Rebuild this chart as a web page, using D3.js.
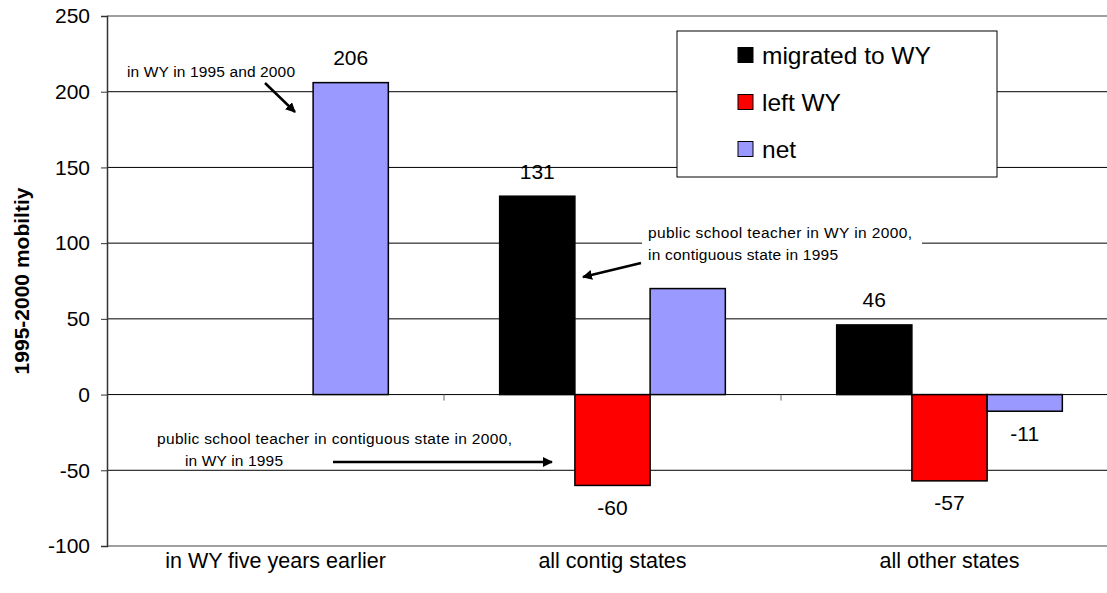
<!DOCTYPE html>
<html>
<head>
<meta charset="utf-8">
<script src="https://cdn.jsdelivr.net/npm/d3@7"></script>
<style>
  html, body { margin: 0; padding: 0; background: #fff; }
  svg { display: block; font-family: "Liberation Sans", Arial, sans-serif; }
</style>
</head>
<body>
<svg id="chart" width="1107" height="593"></svg>
<script>
// Wyoming public school teacher mobility, 1995-2000
const categories = ["in WY five years earlier", "all contig states", "all other states"];
const seriesNames = ["migrated to WY", "left WY", "net"];
const seriesColors = ["#000000", "#FF0000", "#9999FF"];
const migratedValues = [null, 131, 46];
const leftValues = [null, -60, -57];
const netValues = [206, 70, -11];
const migratedLabelled = [false, true, true];
const leftLabelled = [false, true, true];
const netLabelled = [true, false, true];
const yTicks = [-100, -50, 0, 50, 100, 150, 200, 250];
const yTitle = "1995-2000 mobiltiy";

const seriesValues = [migratedValues, leftValues, netValues];
const seriesLabelled = [migratedLabelled, leftLabelled, netLabelled];

const bars = [];
categories.forEach((c, ci) => {
  seriesNames.forEach((s, si) => {
    const v = seriesValues[si][ci];
    if (v !== null) bars.push({ cat: c, series: s, si, value: v, labelled: seriesLabelled[si][ci] });
  });
});

const svg = d3.select("#chart");
const plot = { left: 107, right: 1118, top: 16, bottom: 546 };

const x = d3.scaleBand().domain(categories).range([plot.left, plot.right]).padding(0);
const xs = d3.scaleBand().domain(seriesNames).range([0, x.bandwidth()]).paddingInner(0).paddingOuter(0.74);
const y = d3.scaleLinear().domain([-100, 250]).range([plot.bottom, plot.top]);

// horizontal gridlines
svg.append("g")
  .selectAll("line")
  .data(yTicks.filter(t => t !== 250 && t !== -100 && t !== 0))
  .join("line")
  .attr("x1", plot.left).attr("x2", 1107)
  .attr("y1", d => y(d)).attr("y2", d => y(d))
  .attr("stroke", "#000").attr("stroke-width", 1);

// plot area frame lines (top / bottom)
svg.append("g")
  .selectAll("line")
  .data([250, -100])
  .join("line")
  .attr("x1", plot.left).attr("x2", 1107)
  .attr("y1", d => y(d)).attr("y2", d => y(d))
  .attr("stroke", "#808080").attr("stroke-width", 1.5);

// bars
svg.append("g")
  .selectAll("rect")
  .data(bars)
  .join("rect")
  .attr("x", d => x(d.cat) + xs(d.series))
  .attr("width", xs.bandwidth())
  .attr("y", d => y(Math.max(0, d.value)))
  .attr("height", d => Math.abs(y(d.value) - y(0)))
  .attr("fill", d => seriesColors[d.si])
  .attr("stroke", "#000").attr("stroke-width", 1.5);

// zero line with category ticks
svg.append("line")
  .attr("x1", plot.left).attr("x2", 1107)
  .attr("y1", y(0)).attr("y2", y(0))
  .attr("stroke", "#000").attr("stroke-width", 1);
svg.append("g")
  .selectAll("line")
  .data(categories.slice(1))
  .join("line")
  .attr("x1", d => x(d)).attr("x2", d => x(d))
  .attr("y1", y(0)).attr("y2", y(0) + 6)
  .attr("stroke", "#666").attr("stroke-width", 1);

// y axis
const yAxis = svg.append("g")
  .attr("transform", `translate(${plot.left},0)`)
  .call(d3.axisLeft(y).tickValues(yTicks).tickSize(6).tickPadding(11).tickFormat(d => String(d)));
yAxis.select(".domain").attr("stroke", "#333").attr("stroke-width", 1.5);
yAxis.selectAll(".tick line").attr("stroke", "#333");
yAxis.selectAll(".tick text")
  .attr("font-size", 21).attr("fill", "#000")
  .attr("font-family", "Liberation Sans, Arial, sans-serif");

// y axis title
svg.append("text")
  .attr("transform", `translate(21,${(plot.top + plot.bottom) / 2}) rotate(-90)`)
  .attr("text-anchor", "middle").attr("dominant-baseline", "central")
  .attr("font-size", 21).attr("font-weight", "bold")
  .text(yTitle);

// category labels
svg.append("g")
  .selectAll("text")
  .data(categories)
  .join("text")
  .attr("x", d => x(d) + x.bandwidth() / 2)
  .attr("y", 568)
  .attr("text-anchor", "middle")
  .attr("font-size", 21.5)
  .text(d => d);

// value labels
svg.append("g")
  .selectAll("text")
  .data(bars.filter(d => d.labelled))
  .join("text")
  .attr("x", d => x(d.cat) + xs(d.series) + xs.bandwidth() / 2)
  .attr("y", d => d.value >= 0 ? y(d.value) - 25 : y(d.value) + 22)
  .attr("text-anchor", "middle").attr("dominant-baseline", "central")
  .attr("font-size", 21)
  .text(d => d.value);

// legend
const legend = svg.append("g").attr("transform", "translate(677,31)");
legend.append("rect")
  .attr("width", 320).attr("height", 146)
  .attr("fill", "#fff").attr("stroke", "#000").attr("stroke-width", 1);
const legendRows = legend.selectAll("g")
  .data(seriesNames)
  .join("g")
  .attr("transform", (d, i) => `translate(61,${24 + i * 47})`);
legendRows.append("rect")
  .attr("x", 0).attr("y", -7.5).attr("width", 15).attr("height", 15)
  .attr("fill", (d, i) => seriesColors[i]).attr("stroke", "#000").attr("stroke-width", 1);
legendRows.append("text")
  .attr("x", 24).attr("y", 0).attr("dominant-baseline", "central")
  .attr("font-size", 24.5)
  .text(d => d);

// annotations
const defs = svg.append("defs");
defs.append("marker")
  .attr("id", "arrowhead").attr("viewBox", "0 0 10 10")
  .attr("refX", 9).attr("refY", 5)
  .attr("markerWidth", 4).attr("markerHeight", 4)
  .attr("orient", "auto")
  .append("path").attr("d", "M0,0 L10,5 L0,10 z").attr("fill", "#000");

function arrow(x1, y1, x2, y2) {
  svg.append("line")
    .attr("x1", x1).attr("y1", y1).attr("x2", x2).attr("y2", y2)
    .attr("stroke", "#000").attr("stroke-width", 2.5)
    .attr("marker-end", "url(#arrowhead)");
}

const noteFont = 15.5;
function note(tx, ty, str, len) {
  svg.append("text").attr("x", tx).attr("y", ty)
    .attr("dominant-baseline", "central").attr("font-size", noteFont)
    .attr("textLength", len).attr("lengthAdjust", "spacing")
    .text(str);
}

// note for the first group
note(127, 71, "in WY in 1995 and 2000", 168);
arrow(265, 83, 295, 112);

// note for the contiguous-state arrivals
svg.append("rect").attr("x", 642).attr("y", 221).attr("width", 280).attr("height", 44).attr("fill", "#fff");
note(648, 232, "public school teacher in WY in 2000,", 264);
note(648, 254, "in contiguous state in 1995", 190);
arrow(641, 263, 583, 277);

// note for the contiguous-state departures
note(157, 438, "public school teacher in contiguous state in 2000,", 355);
note(185, 460, "in WY in 1995", 98);
arrow(333, 462, 552, 462);
</script>
</body>
</html>
